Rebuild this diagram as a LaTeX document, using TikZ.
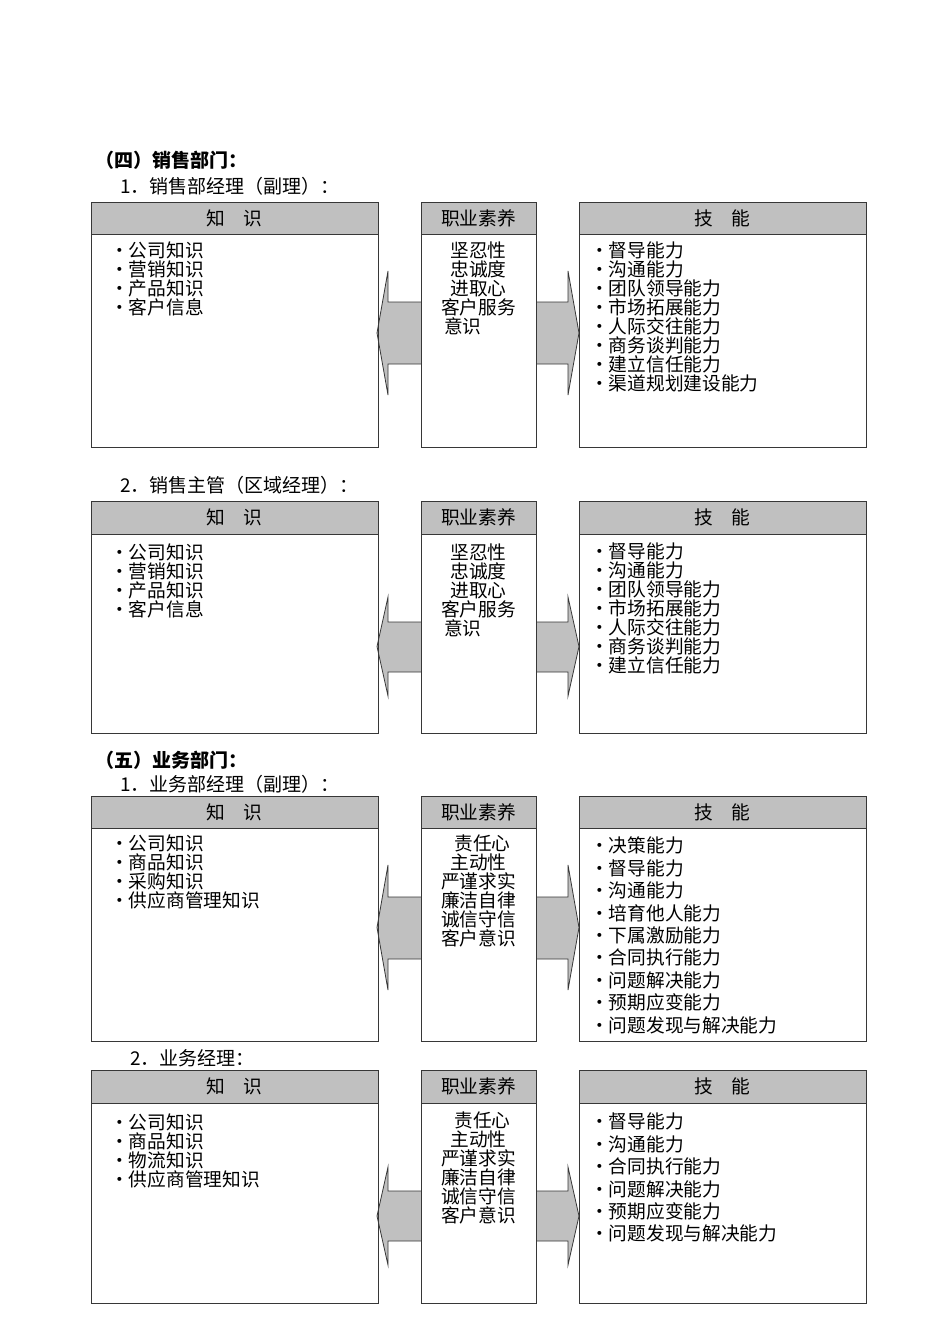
\documentclass[tikz,border=0pt]{standalone}
\usepackage{fontspec}
\setmainfont{Noto Sans CJK SC}
\definecolor{hdgray}{RGB}{192,192,192}
\definecolor{edgegray}{RGB}{55,55,55}
\tikzset{
	hdr/.style={draw=edgegray, fill=hdgray, line width=1pt, inner sep=0pt, outer sep=0pt, anchor=north west, minimum height=32pt, font=\fontsize{18.7}{19}\selectfont},
	frame/.style={draw=edgegray, line width=1pt},
	blockarrow/.style={draw=edgegray, fill=hdgray, line width=0.8pt},
	lst/.style={font=\fontsize{18.7}{19}\selectfont, align=left, inner sep=0pt, anchor=north west},
	widelst/.style={lst, font=\fontsize{18.7}{22.4}\selectfont},
	mid/.style={font=\fontsize{18.7}{19}\selectfont, align=center, inner sep=0pt, anchor=north},
	sechead/.style={font=\fontsize{19}{19}\selectfont\bfseries, inner sep=0pt, anchor=west},
	subhead/.style={font=\fontsize{19}{19}\selectfont, inner sep=0pt, anchor=west}
}
% arrows left and right of the middle box: head top, shaft top, shaft bottom, head bottom
\def\sidearrows(#1:#2:#3:#4){%
	\draw[blockarrow] (421,#2) -- (388,#2) -- (388,#1) -- (377,{(#1+#4)/2}) -- (388,#4) -- (388,#3) -- (421,#3);
	\draw[blockarrow] (536,#2) -- (568,#2) -- (568,#1) -- (579,{(#1+#4)/2}) -- (568,#4) -- (568,#3) -- (536,#3);
}
\begin{document}
\begin{tikzpicture}[x=1pt, y=-1pt]
	\useasboundingbox (0,0) rectangle (950,1344);
	
	%%%%% (4) sales %%%%%
	\node[sechead] (sec4) at (95,160) {（四）销售部门：};
	\node[subhead] (job41) at (120,186) {1．销售部经理（副理）：};
	\sidearrows(271:302:364:395)
	\node[hdr, minimum width=287pt] (know41) at (91,202) {知\hspace{1em}识};
	\node[hdr, minimum width=115pt] (qual41) at (421,202) {职业素养};
	\node[hdr, minimum width=287pt] (skill41) at (579,202) {技\hspace{1em}能};
	\draw[frame] (know41.south west) rectangle (378,447);
	\draw[frame] (qual41.south west) rectangle (536,447);
	\draw[frame] (skill41.south west) rectangle (866,447);
	\node[lst] (know41l) at (110,242) {·公司知识\\·营销知识\\·产品知识\\·客户信息};
	\node[mid] (qual41l) at (478.5,242) {坚忍性\\忠诚度\\进取心\\客户服务\\\makebox[75pt][l]{\hspace{3pt}意识}};
	\node[lst] (skill41l) at (590,242) {·督导能力\\·沟通能力\\·团队领导能力\\·市场拓展能力\\·人际交往能力\\·商务谈判能力\\·建立信任能力\\·渠道规划建设能力};
	
	\node[subhead] (job42) at (120,485) {2．销售主管（区域经理）：};
	\sidearrows(597:622:672:696)
	\node[hdr, minimum width=287pt, minimum height=33pt] (know42) at (91,501) {知\hspace{1em}识};
	\node[hdr, minimum width=115pt, minimum height=33pt] (qual42) at (421,501) {职业素养};
	\node[hdr, minimum width=287pt, minimum height=33pt] (skill42) at (579,501) {技\hspace{1em}能};
	\draw[frame] (know42.south west) rectangle (378,733);
	\draw[frame] (qual42.south west) rectangle (536,733);
	\draw[frame] (skill42.south west) rectangle (866,733);
	\node[lst] (know42l) at (110,544) {·公司知识\\·营销知识\\·产品知识\\·客户信息};
	\node[mid] (qual42l) at (478.5,544) {坚忍性\\忠诚度\\进取心\\客户服务\\\makebox[75pt][l]{\hspace{3pt}意识}};
	\node[lst] (skill42l) at (590,543) {·督导能力\\·沟通能力\\·团队领导能力\\·市场拓展能力\\·人际交往能力\\·商务谈判能力\\·建立信任能力};
	
	%%%%% (5) business %%%%%
	\node[sechead] (sec5) at (95,760) {（五）业务部门：};
	\node[subhead] (job51) at (120,784) {1．业务部经理（副理）：};
	\sidearrows(865:897:959:990)
	\node[hdr, minimum width=287pt] (know51) at (91,796) {知\hspace{1em}识};
	\node[hdr, minimum width=115pt] (qual51) at (421,796) {职业素养};
	\node[hdr, minimum width=287pt] (skill51) at (579,796) {技\hspace{1em}能};
	\draw[frame] (know51.south west) rectangle (378,1041);
	\draw[frame] (qual51.south west) rectangle (536,1041);
	\draw[frame] (skill51.south west) rectangle (866,1041);
	\node[lst] (know51l) at (110,835) {·公司知识\\·商品知识\\·采购知识\\·供应商管理知识};
	\node[mid] (qual51l) at (478.5,835) {\hspace*{8pt}责任心\\主动性\\严谨求实\\廉洁自律\\诚信守信\\客户意识};
	\node[widelst] (skill51l) at (590,837) {·决策能力\\·督导能力\\·沟通能力\\·培育他人能力\\·下属激励能力\\·合同执行能力\\·问题解决能力\\·预期应变能力\\·问题发现与解决能力};
	
	\node[subhead] (job52) at (130,1058) {2．业务经理：};
	\sidearrows(1167:1191:1241:1265)
	\node[hdr, minimum width=287pt, minimum height=33pt] (know52) at (91,1070) {知\hspace{1em}识};
	\node[hdr, minimum width=115pt, minimum height=33pt] (qual52) at (421,1070) {职业素养};
	\node[hdr, minimum width=287pt, minimum height=33pt] (skill52) at (579,1070) {技\hspace{1em}能};
	\draw[frame] (know52.south west) rectangle (378,1303);
	\draw[frame] (qual52.south west) rectangle (536,1303);
	\draw[frame] (skill52.south west) rectangle (866,1303);
	\node[lst] (know52l) at (110,1114) {·公司知识\\·商品知识\\·物流知识\\·供应商管理知识};
	\node[mid] (qual52l) at (478.5,1112) {\hspace*{8pt}责任心\\主动性\\严谨求实\\廉洁自律\\诚信守信\\客户意识};
	\node[widelst] (skill52l) at (590,1113) {·督导能力\\·沟通能力\\·合同执行能力\\·问题解决能力\\·预期应变能力\\·问题发现与解决能力};
\end{tikzpicture}
\end{document}
